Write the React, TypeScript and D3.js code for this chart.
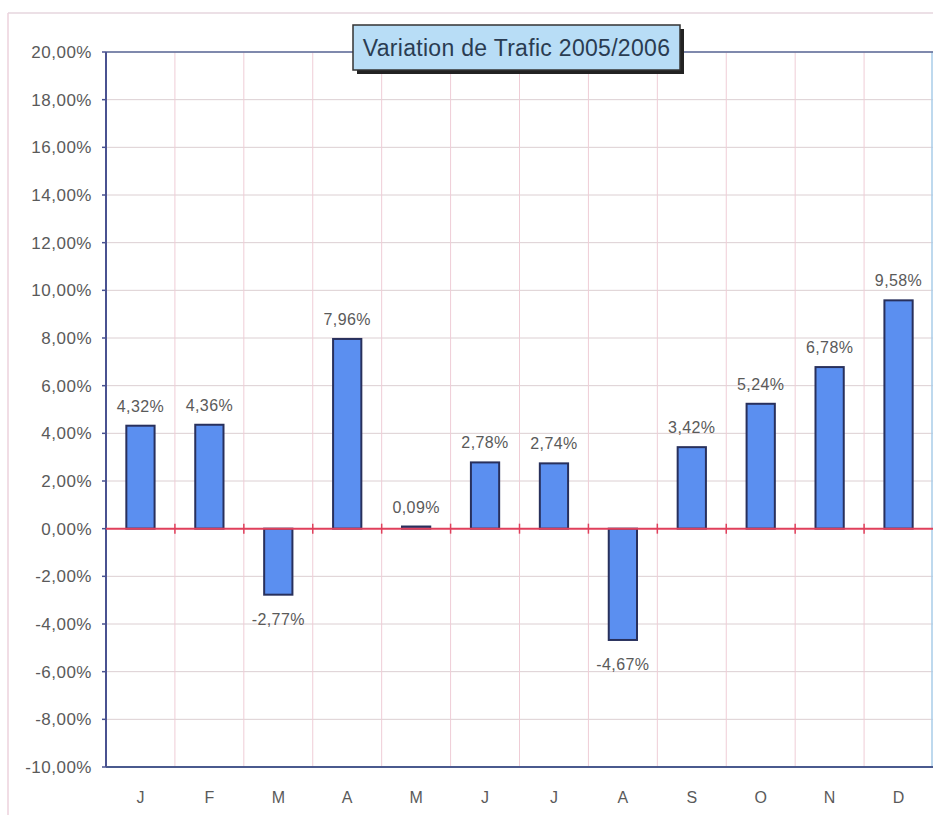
import React from "react";
import * as d3 from "d3";

const months = ["J", "F", "M", "A", "M", "J", "J", "A", "S", "O", "N", "D"];
const values = [4.32, 4.36, -2.77, 7.96, 0.09, 2.78, 2.74, -4.67, 3.42, 5.24, 6.78, 9.58];
const yTicks = [-10, -8, -6, -4, -2, 0, 2, 4, 6, 8, 10, 12, 14, 16, 18, 20];
const title = "Variation de Trafic 2005/2006";

const W = 933;
const H = 815;
const left = 106;
const right = 933;
const top = 52;
const bottom = 767;
const font = "'Liberation Sans', Arial, sans-serif";

const fmt = (v: number) => v.toFixed(2).replace(".", ",") + "%";

export default function App() {
  const idx = months.map((_, i) => String(i));
  const x = d3.scaleBand<string>().domain(idx).range([left, right]).padding(0);
  const y = d3.scaleLinear().domain([-10, 20]).range([bottom, top]);
  const step = x.step();
  const bw = step * 0.41;
  const y0 = y(0);

  return (
    <svg width={W} height={H} style={{ display: "block", position: "absolute", left: 0, top: 0 }}>
      <rect x={0} y={0} width={W} height={H} fill="#fff" />
      {/* outer frame */}
      <line x1={8} x2={W} y1={13} y2={13} stroke="#e6d6de" strokeWidth={1.5} />
      <line x1={8} x2={8} y1={13} y2={H} stroke="#ecd2dc" strokeWidth={1.5} />

      {/* horizontal grid */}
      {yTicks.map((t) => (
        <line key={"h" + t} x1={left} x2={right} y1={y(t)} y2={y(t)} stroke="#dccfd2" strokeWidth={1} />
      ))}
      {/* vertical grid */}
      {idx.slice(1).map((d) => (
        <line key={"v" + d} x1={x(d)!} x2={x(d)!} y1={top} y2={bottom} stroke="#efcdd6" strokeWidth={1} />
      ))}

      {/* plot borders */}
      <line x1={right - 1} x2={right - 1} y1={top} y2={bottom} stroke="#a8cde8" strokeWidth={1.5} />
      <line x1={left} x2={right} y1={top} y2={top} stroke="#5a6a98" strokeWidth={1.5} />
      <line x1={left} x2={right} y1={bottom} y2={bottom} stroke="#4a5a8e" strokeWidth={2} />
      <line x1={left} x2={left} y1={top} y2={bottom} stroke="#4a5290" strokeWidth={2} />

      {/* y ticks & labels */}
      {yTicks.map((t) => (
        <g key={"y" + t}>
          <line x1={left - 4} x2={left} y1={y(t)} y2={y(t)} stroke="#4a5290" strokeWidth={1.5} />
          <text
            x={92}
            y={y(t)}
            dy="0.36em"
            textAnchor="end"
            fontFamily={font}
            fontSize={17}
            letterSpacing={0.5}
            fill="#5a5a5a"
          >
            {fmt(t)}
          </text>
        </g>
      ))}

      {/* bars */}
      {values.map((v, i) => {
        const cx = x(String(i))! + step / 2;
        const yt = y(Math.max(v, 0));
        const yb = y(Math.min(v, 0));
        return (
          <rect
            key={"b" + i}
            x={cx - bw / 2}
            y={yt}
            width={bw}
            height={Math.max(yb - yt, 1.5)}
            fill="#5b8ff0"
            stroke="#28305c"
            strokeWidth={2}
          />
        );
      })}

      {/* zero line with ticks */}
      <line x1={left} x2={right} y1={y0} y2={y0} stroke="#e0405c" strokeWidth={2} />
      {idx.slice(1).map((d) => (
        <line key={"z" + d} x1={x(d)!} x2={x(d)!} y1={y0 - 5} y2={y0 + 5} stroke="#e0405c" strokeWidth={1.5} />
      ))}

      {/* value labels */}
      {values.map((v, i) => {
        const cx = x(String(i))! + step / 2;
        const yy = v >= 0 ? y(v) - 14 : y(v) + 30;
        return (
          <text
            key={"l" + i}
            x={cx}
            y={yy}
            textAnchor="middle"
            fontFamily={font}
            fontSize={16}
            letterSpacing={0.4}
            fill="#5a5a5a"
          >
            {fmt(v)}
          </text>
        );
      })}

      {/* x labels */}
      {months.map((m, i) => (
        <text
          key={"x" + i}
          x={x(String(i))! + step / 2}
          y={803}
          textAnchor="middle"
          fontFamily={font}
          fontSize={16}
          fill="#5a5a5a"
        >
          {m}
        </text>
      ))}

      {/* title */}
      <rect x={357} y={29} width={327} height={45} fill="#222" />
      <rect x={353} y={25} width={327} height={45} fill="#b8ddf6" stroke="#333" strokeWidth={1.5} />
      <text
        x={516.5}
        y={56}
        textAnchor="middle"
        fontFamily={font}
        fontSize={23}
        letterSpacing={0.3}
        fill="#2a3c52"
      >
        {title}
      </text>
    </svg>
  );
}
